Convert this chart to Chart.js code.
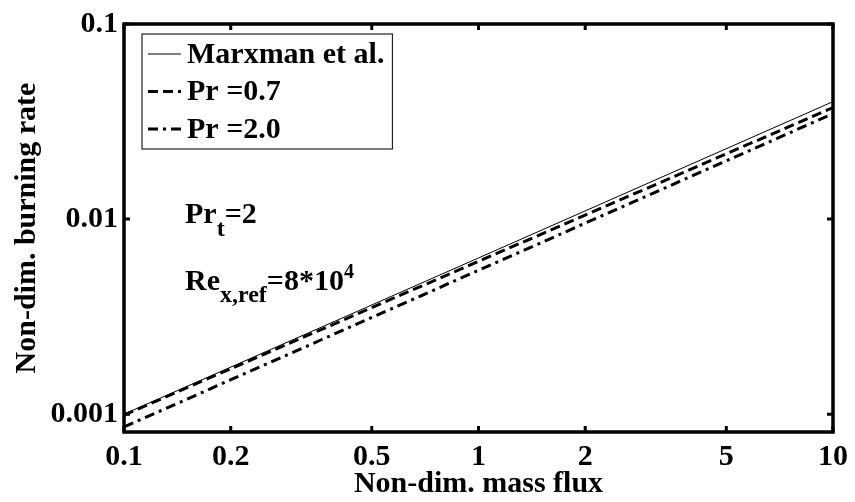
<!DOCTYPE html>
<html>
<head>
<meta charset="utf-8">
<script src="https://cdn.jsdelivr.net/npm/chart.js@4.4.1/dist/chart.umd.min.js"></script>
<style>
    html, body { margin: 0; padding: 0; background: #fff; }
    #wrap { width: 855px; height: 502px; }
</style>
</head>
<body>
<div id="wrap"><canvas id="burnChart" width="855" height="502"></canvas></div>
<script>
// Burning rate vs. mass flux (log-log)
const massFlux = [0.1, 1, 10];
const marxman = [0.00100, 0.00632, 0.0400];
const prLow = [0.00099, 0.00607, 0.0373];   // Pr = 0.7
const prHigh = [0.00086, 0.00546, 0.0347];  // Pr = 2.0

const seriesLabels = ["Marxman et al.", "Pr =0.7", "Pr =2.0"];
const xTicks = [0.1, 0.2, 0.5, 1, 2, 5, 10];
const yTicks = [0.001, 0.01, 0.1];

const SERIF = '"Liberation Serif", "Times New Roman", serif';
const FONT_SIZE = 30;
const boldFont = size => `bold ${size}px ${SERIF}`;

function toPoints(ys) {
    return massFlux.map((x, i) => ({ x: x, y: ys[i] }));
}

// Frame with inward ticks on all four sides
const frameTicks = {
    id: 'frameTicks',
    afterDraw(chart) {
        const ctx = chart.ctx;
        const a = chart.chartArea;
        const xs = chart.scales.x, ys = chart.scales.y;
        const len = 6;
        ctx.save();
        ctx.strokeStyle = '#000';
        ctx.lineWidth = 3;
        ctx.setLineDash([]);
        ctx.beginPath();
        xTicks.forEach(v => {
            const px = xs.getPixelForValue(v);
            ctx.moveTo(px, a.bottom); ctx.lineTo(px, a.bottom - len);
            ctx.moveTo(px, a.top); ctx.lineTo(px, a.top + len);
        });
        yTicks.forEach(v => {
            const py = ys.getPixelForValue(v);
            ctx.moveTo(a.left, py); ctx.lineTo(a.left + len, py);
            ctx.moveTo(a.right, py); ctx.lineTo(a.right - len, py);
        });
        ctx.stroke();
        ctx.lineWidth = 3.5;
        ctx.strokeRect(a.left, a.top, a.right - a.left, a.bottom - a.top);
        ctx.restore();
    }
};

// Boxed legend in the upper-left corner of the plot
const legendBox = {
    id: 'legendBox',
    afterDraw(chart) {
        const ctx = chart.ctx;
        const a = chart.chartArea;
        const sets = chart.data.datasets;
        ctx.save();
        ctx.font = boldFont(FONT_SIZE);
        const textW = Math.max(...sets.map(d => ctx.measureText(d.label).width));
        const x0 = a.left + 18, y0 = a.top + 10;
        const rowH = 37.5;
        const boxW = 45 + textW + 8, boxH = 115;
        ctx.fillStyle = '#fff';
        ctx.fillRect(x0, y0, boxW, boxH);
        ctx.strokeStyle = '#222';
        ctx.lineWidth = 1.2;
        ctx.strokeRect(x0, y0, boxW, boxH);
        sets.forEach((d, i) => {
            const cy = y0 + 20 + i * rowH;
            ctx.strokeStyle = '#000';
            ctx.lineWidth = d.borderWidth;
            ctx.setLineDash(d.borderDash || []);
            ctx.beginPath();
            ctx.moveTo(x0 + 6, cy);
            ctx.lineTo(x0 + 39, cy);
            ctx.stroke();
            ctx.setLineDash([]);
            ctx.fillStyle = '#000';
            ctx.textBaseline = 'middle';
            ctx.textAlign = 'left';
            ctx.fillText(d.label, x0 + 45, cy + 1);
        });
        ctx.restore();
    }
};

// Parameter notes with sub/superscripts
const notes = {
    id: 'notes',
    afterDraw(chart) {
        const ctx = chart.ctx;
        ctx.save();
        ctx.fillStyle = '#000';
        ctx.textBaseline = 'alphabetic';
        ctx.textAlign = 'left';
        const runs = (x, base, parts) => {
            parts.forEach(p => {
                ctx.font = boldFont(p.size);
                ctx.fillText(p.t, x, base + (p.dy || 0));
                x += ctx.measureText(p.t).width;
            });
        };
        runs(185, 223, [
            { t: 'Pr', size: FONT_SIZE },
            { t: 't', size: 24, dy: 13 },
            { t: '=2', size: FONT_SIZE }
        ]);
        runs(185, 290, [
            { t: 'Re', size: FONT_SIZE },
            { t: 'x,ref', size: 24, dy: 12 },
            { t: '=8*10', size: FONT_SIZE },
            { t: '4', size: 20, dy: -12 }
        ]);
        ctx.restore();
    }
};

const axisFont = { family: SERIF, size: FONT_SIZE, weight: 'bold' };

const ctx = document.getElementById('burnChart').getContext('2d');
new Chart(ctx, {
    type: 'line',
    data: {
        datasets: [
            {
                label: seriesLabels[0],
                data: toPoints(marxman),
                borderColor: '#000',
                borderWidth: 1,
                borderDash: []
            },
            {
                label: seriesLabels[1],
                data: toPoints(prLow),
                borderColor: '#000',
                borderWidth: 3,
                borderDash: [10, 5]
            },
            {
                label: seriesLabels[2],
                data: toPoints(prHigh),
                borderColor: '#000',
                borderWidth: 3,
                borderDash: [10, 5, 3, 5]
            }
        ]
    },
    options: {
        responsive: false,
        animation: false,
        devicePixelRatio: 1,
        layout: { padding: { left: 0, top: 22, right: 20, bottom: 0 } },
        elements: { point: { radius: 0 }, line: { tension: 0 } },
        plugins: {
            legend: { display: false },
            tooltip: { enabled: false }
        },
        scales: {
            x: {
                type: 'logarithmic',
                min: 0.1,
                max: 10,
                afterBuildTicks: s => { s.ticks = xTicks.map(v => ({ value: v })); },
                afterFit: s => { s.height = 70; },
                grid: { display: false, drawTicks: false },
                border: { display: false },
                ticks: {
                    color: '#000',
                    font: axisFont,
                    padding: 7,
                    maxRotation: 0,
                    autoSkip: false,
                    callback: v => String(v)
                },
                title: {
                    display: true,
                    text: 'Non-dim. mass flux',
                    color: '#000',
                    font: axisFont,
                    padding: { top: 0, bottom: 0 }
                }
            },
            y: {
                type: 'logarithmic',
                min: 0.00081,
                max: 0.1,
                afterBuildTicks: s => { s.ticks = yTicks.map(v => ({ value: v })); },
                afterFit: s => { s.width = 124; },
                grid: { display: false, drawTicks: false },
                border: { display: false },
                ticks: {
                    color: '#000',
                    font: axisFont,
                    padding: 6,
                    autoSkip: false,
                    callback: v => String(v)
                },
                title: {
                    display: true,
                    text: 'Non-dim. burning rate',
                    color: '#000',
                    font: axisFont,
                    padding: { top: 9, bottom: 0 }
                }
            }
        }
    },
    plugins: [frameTicks, legendBox, notes]
});
</script>
</body>
</html>
